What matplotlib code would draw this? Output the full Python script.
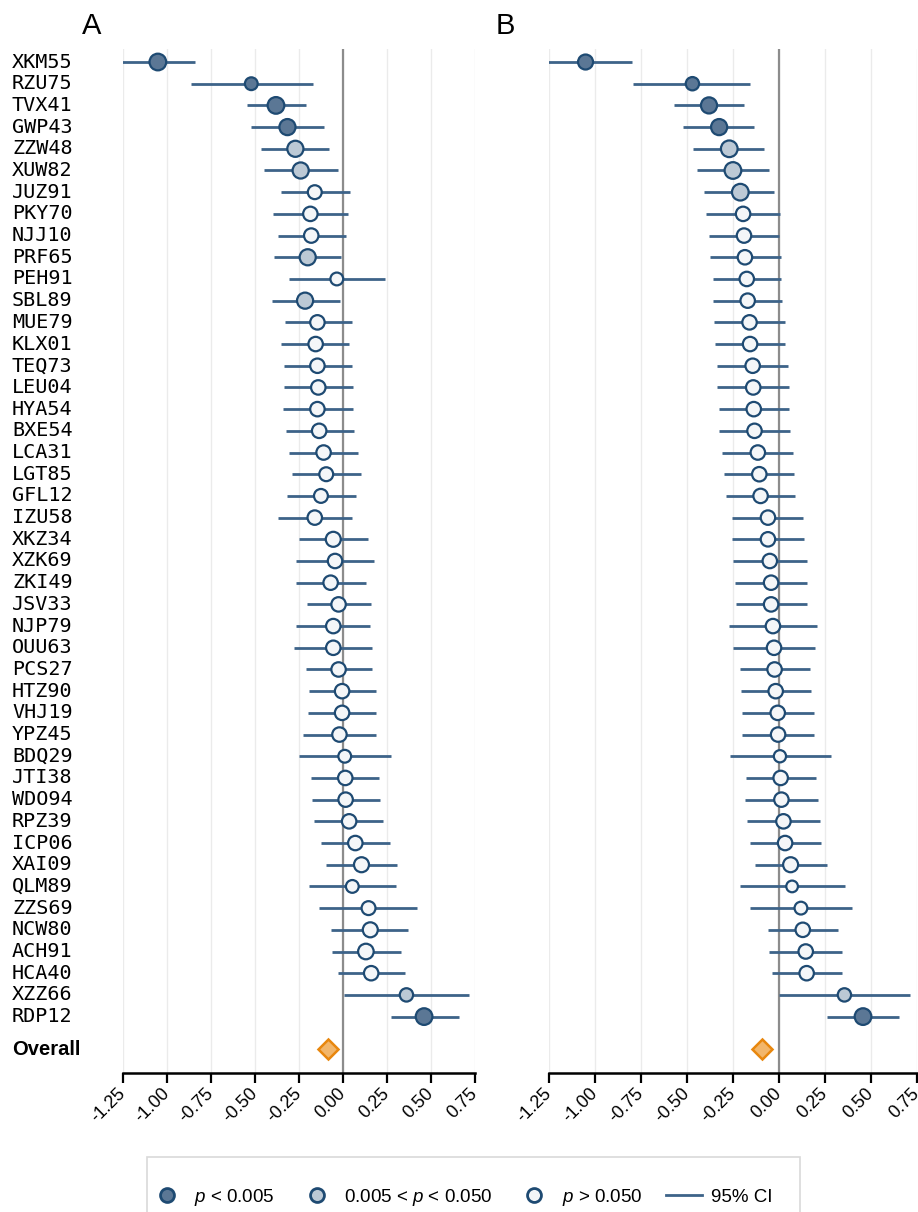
import matplotlib
matplotlib.use("Agg")
import matplotlib.pyplot as plt
import matplotlib.transforms as mtransforms
from matplotlib.lines import Line2D
from matplotlib.patches import Rectangle

plt.rcParams['font.family'] = ['Liberation Sans', 'DejaVu Sans']
plt.rcParams['mathtext.fontset'] = 'custom'
plt.rcParams['mathtext.it'] = 'Liberation Sans:italic'
plt.rcParams['mathtext.rm'] = 'Liberation Sans'

# --- data ---
labels = ['XKM55', 'RZU75', 'TVX41', 'GWP43', 'ZZW48', 'XUW82', 'JUZ91', 'PKY70',
          'NJJ10', 'PRF65', 'PEH91', 'SBL89', 'MUE79', 'KLX01', 'TEQ73', 'LEU04',
          'HYA54', 'BXE54', 'LCA31', 'LGT85', 'GFL12', 'IZU58', 'XKZ34', 'XZK69',
          'ZKI49', 'JSV33', 'NJP79', 'OUU63', 'PCS27', 'HTZ90', 'VHJ19', 'YPZ45',
          'BDQ29', 'JTI38', 'WDO94', 'RPZ39', 'ICP06', 'XAI09', 'QLM89', 'ZZS69',
          'NCW80', 'ACH91', 'HCA40', 'XZZ66', 'RDP12']

# panel A
a_est = [-1.05, -0.52, -0.38, -0.315, -0.27, -0.24, -0.16, -0.185, -0.18, -0.20,
         -0.035, -0.215, -0.145, -0.155, -0.145, -0.14, -0.145, -0.135, -0.11, -0.095,
         -0.125, -0.16, -0.055, -0.045, -0.07, -0.025, -0.055, -0.055, -0.025, -0.005,
         -0.005, -0.02, 0.01, 0.013, 0.015, 0.035, 0.07, 0.105, 0.053, 0.145,
         0.155, 0.13, 0.16, 0.36, 0.46]
a_lo = [-1.26, -0.86, -0.545, -0.52, -0.465, -0.45, -0.35, -0.395, -0.37, -0.39,
        -0.305, -0.40, -0.33, -0.35, -0.335, -0.335, -0.34, -0.325, -0.305, -0.29,
        -0.32, -0.37, -0.25, -0.265, -0.265, -0.205, -0.265, -0.28, -0.21, -0.195,
        -0.20, -0.225, -0.25, -0.18, -0.175, -0.165, -0.125, -0.095, -0.195, -0.135,
        -0.07, -0.065, -0.03, 0.005, 0.27]
a_hi = [-0.84, -0.17, -0.21, -0.11, -0.08, -0.03, 0.04, 0.03, 0.015, -0.01,
        0.24, -0.015, 0.05, 0.035, 0.05, 0.055, 0.057, 0.06, 0.085, 0.10,
        0.075, 0.05, 0.14, 0.175, 0.13, 0.16, 0.155, 0.165, 0.165, 0.185,
        0.19, 0.185, 0.27, 0.205, 0.21, 0.225, 0.265, 0.305, 0.30, 0.42,
        0.37, 0.33, 0.35, 0.715, 0.66]
# 0: p < 0.005, 1: 0.005 < p < 0.050, 2: p > 0.050
a_sig = [0, 0, 0, 0, 1, 1, 2, 2, 2, 1, 2, 1, 2, 2, 2, 2, 2, 2, 2, 2, 2, 2, 2,
         2, 2, 2, 2, 2, 2, 2, 2, 2, 2, 2, 2, 2, 2, 2, 2, 2, 2, 2, 2, 1, 0]
a_size = [17, 13.5, 17, 16.5, 16.5, 16.5, 14.5, 15, 15, 16.5, 13.5, 16.5, 15, 15,
          15, 15, 15, 15, 15, 14.5, 14.5, 15, 15.5, 15, 15, 15, 15, 15, 15, 15,
          15, 15, 13.5, 15, 15, 15, 15, 15.5, 13.5, 14.5, 15.5, 16, 15, 14, 17]
a_overall = -0.085

# panel B
b_est = [-1.05, -0.47, -0.38, -0.325, -0.27, -0.25, -0.21, -0.195, -0.19, -0.185,
         -0.175, -0.17, -0.16, -0.157, -0.143, -0.14, -0.137, -0.133, -0.115, -0.107,
         -0.10, -0.06, -0.06, -0.05, -0.043, -0.043, -0.033, -0.027, -0.024, -0.018,
         -0.007, -0.005, 0.005, 0.009, 0.013, 0.024, 0.033, 0.063, 0.071, 0.119,
         0.129, 0.145, 0.15, 0.355, 0.456]
b_lo = [-1.29, -0.79, -0.57, -0.52, -0.465, -0.445, -0.405, -0.395, -0.38, -0.375,
        -0.36, -0.36, -0.355, -0.35, -0.335, -0.335, -0.325, -0.325, -0.31, -0.297,
        -0.29, -0.257, -0.253, -0.25, -0.237, -0.233, -0.273, -0.248, -0.213, -0.206,
        -0.20, -0.20, -0.264, -0.181, -0.183, -0.172, -0.159, -0.132, -0.21, -0.157,
        -0.061, -0.053, -0.038, 0.0, 0.262]
b_hi = [-0.80, -0.155, -0.19, -0.135, -0.08, -0.055, -0.025, 0.007, 0.0, 0.01,
        0.01, 0.015, 0.03, 0.035, 0.05, 0.053, 0.053, 0.06, 0.078, 0.081,
        0.087, 0.132, 0.134, 0.152, 0.152, 0.15, 0.206, 0.195, 0.166, 0.172,
        0.19, 0.19, 0.281, 0.203, 0.21, 0.221, 0.228, 0.261, 0.357, 0.398,
        0.32, 0.342, 0.34, 0.71, 0.653]
b_sig = [0, 0, 0, 0, 1, 1, 1, 2, 2, 2, 2, 2, 2, 2, 2, 2, 2, 2, 2, 2, 2, 2, 2,
         2, 2, 2, 2, 2, 2, 2, 2, 2, 2, 2, 2, 2, 2, 2, 2, 2, 2, 2, 2, 1, 0]
b_size = [15.5, 14, 16.5, 16.5, 17, 17, 17, 15, 15, 15, 15, 15, 15, 15, 15, 15,
          15, 15, 15, 15, 15, 15, 15, 15, 15, 15, 15, 15, 15, 15, 15, 15, 13,
          15, 15, 15, 15, 15.5, 12.5, 13.5, 15, 15, 15, 14, 17]
b_overall = -0.09

xticks = [-1.25, -1.00, -0.75, -0.50, -0.25, 0.00, 0.25, 0.50, 0.75]
legend_labels = ['$p$ < 0.005', '0.005 < $p$ < 0.050', '$p$ > 0.050', '95% CI']

# --- style ---
fills = ['#5b7795', '#bcc9d5', '#f4f6f8']
edge_c = '#1e4a72'
ci_c = '#3d6389'
EW = 1.6
W, H = 918.0, 1212.0

fig = plt.figure(figsize=(9.18, 12.12), dpi=100)
ax_a = fig.add_axes([122.6 / W, 1 - 1073 / H, 352.6 / W, (1073 - 49) / H])
ax_b = fig.add_axes([548.7 / W, 1 - 1073 / H, 368.5 / W, (1073 - 49) / H])


def draw_panel(ax, est, lo, hi, sig, size, overall):
    ypos = list(range(len(est)))
    for x in xticks:
        ax.axvline(x, color='#ebebeb', lw=1, zorder=0)
    ax.axvline(0, color='#8c8c8c', lw=1.6, zorder=1)
    ax.hlines(ypos, lo, hi, color=ci_c, lw=2, zorder=2)
    ax.scatter(est, ypos, s=[(d * 0.8 - EW) ** 2 for d in size],
               c=[fills[k] for k in sig], edgecolors=edge_c, linewidths=EW, zorder=3)
    ax.plot([overall], [len(est) + 0.5], marker='D', ms=10.5, color='#f2b66b',
            mec='#e8870e', mew=1.8, ls='none', zorder=3)
    ax.set_xlim(-1.25, 0.75)
    ax.set_ylim(len(est) + 1.6, -0.6)
    ax.set_xticks(xticks)
    ax.set_xticklabels(['%.2f' % x for x in xticks], rotation=45, ha='right',
                       va='center', rotation_mode='anchor', fontsize=13)
    ax.tick_params(axis='x', length=7, width=1.6, pad=6, color='black')
    ax.set_yticks([])
    for s in ['left', 'right', 'top']:
        ax.spines[s].set_visible(False)
    ax.spines['bottom'].set_linewidth(1.8)


draw_panel(ax_a, a_est, a_lo, a_hi, a_sig, a_size, a_overall)
draw_panel(ax_b, b_est, b_lo, b_hi, b_sig, b_size, b_overall)

# panel letters
fig.text(82 / W, 1 - 34 / H, 'A', fontsize=21, ha='left', va='baseline')
fig.text(496 / W, 1 - 34 / H, 'B', fontsize=21, ha='left', va='baseline')

# row labels on the left of panel A
trans = mtransforms.blended_transform_factory(fig.transFigure, ax_a.transData)
for i, lab in enumerate(labels):
    ax_a.text(12 / W, i, lab, transform=trans, family='DejaVu Sans Mono',
              fontsize=14.5, ha='left', va='center')
ax_a.text(12 / W, len(labels) + 0.5, 'Overall', transform=trans,
          fontsize=14.5, fontweight='bold', ha='left', va='center')

# legend box (runs off the bottom edge) and frameless legend inside it
fig.patches.append(Rectangle((147 / W, -0.05), (800 - 147) / W, 0.05 + 1 - 1157 / H,
                             transform=fig.transFigure, facecolor='white',
                             edgecolor='#d9d9d9', lw=1.2, zorder=0))
handles = [Line2D([], [], marker='o', ls='none', ms=10, mfc=fills[k], mec=edge_c, mew=2)
           for k in range(3)]
handles.append(Line2D([], [], color=ci_c, lw=2))
fig.legend(handles, legend_labels, loc='center left', bbox_to_anchor=(149 / W, 1 - 1197 / H),
           ncol=4, fontsize=13.5, frameon=False, borderpad=0, borderaxespad=0,
           handlelength=1.9, handletextpad=0.5, columnspacing=1.3)

fig.savefig('out.png', dpi=100)
